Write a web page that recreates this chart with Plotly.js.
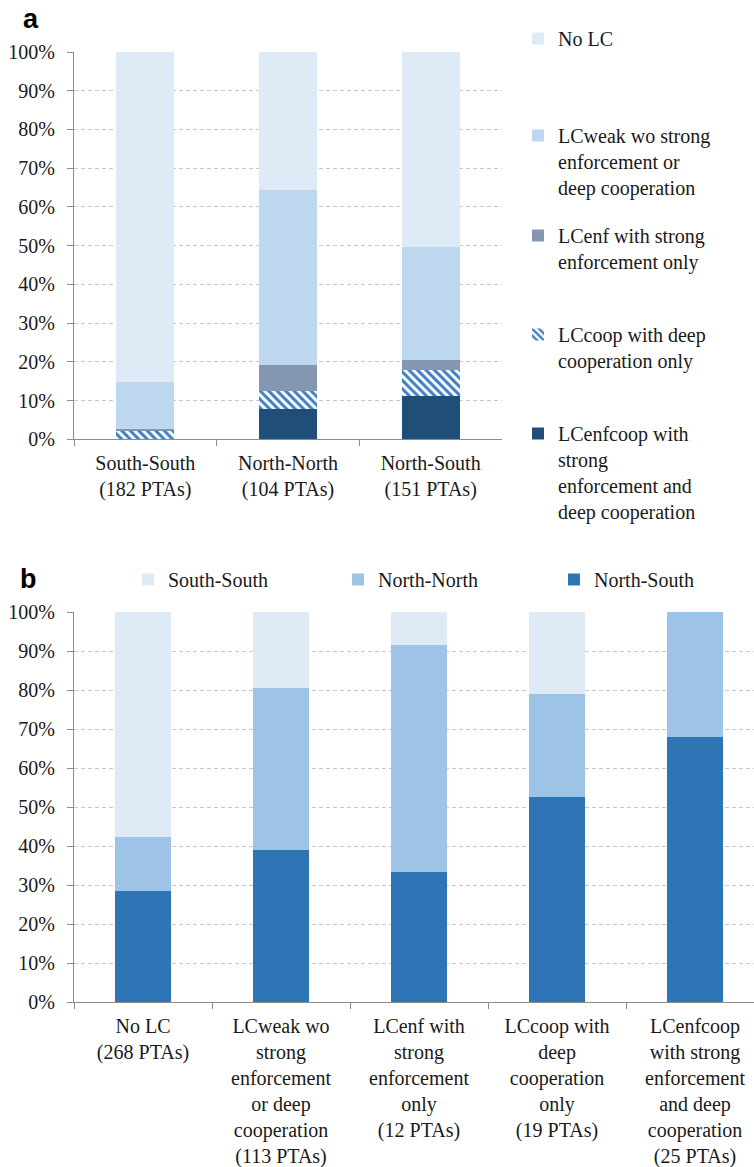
<!DOCTYPE html>
<html>
<head>
<meta charset="utf-8">
<script src="https://cdn.plot.ly/plotly-3.0.1.min.js"></script>
<style>
html,body{margin:0;padding:0;overflow:hidden;background:#fff;}
#chart{width:754px;height:1167px;}
</style>
</head>
<body>
<div id="chart"></div>
<script>
// ---- Panel a data (share of PTAs by labour-clause type within each group, %) ----
var groupsA = ["South-South<br>(182 PTAs)", "North-North<br>(104 PTAs)", "North-South<br>(151 PTAs)"];
var enfcoopA = [0, 7.7, 11.3];
var coopA = [2.2, 4.8, 6.6];
var enfA = [0.5, 6.7, 2.6];
var weakA = [12.1, 45.2, 29.1];
var nolcA = [85.2, 35.6, 50.4];
var namesA = [
  "LCenfcoop with<br>strong<br>enforcement and<br>deep cooperation",
  "LCcoop with deep<br>cooperation only",
  "LCenf with strong<br>enforcement only",
  "LCweak wo strong<br>enforcement or<br>deep cooperation",
  "No LC"
];

// ---- Panel b data (share of PTAs by group within each labour-clause type, %) ----
var typesB = [
  "No LC<br>(268 PTAs)",
  "LCweak wo<br>strong<br>enforcement<br>or deep<br>cooperation<br>(113 PTAs)",
  "LCenf with<br>strong<br>enforcement<br>only<br>(12 PTAs)",
  "LCcoop with<br>deep<br>cooperation<br>only<br>(19 PTAs)",
  "LCenfcoop<br>with strong<br>enforcement<br>and deep<br>cooperation<br>(25 PTAs)"
];
var northSouthB = [28.4, 38.9, 33.3, 52.6, 68.0];
var northNorthB = [13.8, 41.6, 58.3, 26.3, 32.0];
var southSouthB = [57.8, 19.5, 8.4, 21.1, 0];
var namesB = ["North-South", "North-North", "South-South"];

var yTicks = [0,10,20,30,40,50,60,70,80,90,100];

// ---- helpers for positioning ----
var W = 754, H = 1167;
function px(x){ return x / W; }
function py(y){ return 1 - y / H; }

var FONT = 'Liberation Serif';
var FS = 20;
var TXT = '#1a1a1a';

var colorsA = ['#1f4e79', '#3d7ec2', '#8497b0', '#bdd7ee', '#deeaf6'];
var legendsA = ['legend', 'legend2', 'legend3', 'legend4', 'legend5'];
var seriesA = [enfcoopA, coopA, enfA, weakA, nolcA];

var traces = [];
seriesA.forEach(function(vals, i){
  var t = {
    type: 'bar', x: groupsA, y: vals, name: namesA[i],
    xaxis: 'x', yaxis: 'y', legend: legendsA[i],
    marker: {color: colorsA[i], line: {width: 0}},
    hoverinfo: 'skip'
  };
  if (i === 1) {
    t.marker = {color: '#3d7ec2', line: {width: 0},
      pattern: {shape: '\\', fillmode: 'replace', fgcolor: '#3d7ec2', bgcolor: '#ffffff', size: 6, solidity: 0.5}};
  }
  traces.push(t);
});

var colorsB = ['#2e75b6', '#9dc3e6', '#deeaf6'];
var legendsB = ['legend8', 'legend7', 'legend6'];
[northSouthB, northNorthB, southSouthB].forEach(function(vals, i){
  traces.push({
    type: 'bar', x: typesB, y: vals, name: namesB[i],
    xaxis: 'x2', yaxis: 'y2', legend: legendsB[i],
    marker: {color: colorsB[i], line: {width: 0}},
    hoverinfo: 'skip'
  });
});

var yCommon = {
  range: [0, 100], tickvals: yTicks, ticktext: yTicks.map(function(v){return v + '%';}),
  showgrid: true, gridcolor: '#c8c8c8', gridwidth: 1, griddash: '4px,3px',
  zeroline: false, showline: true, linecolor: '#8c8c8c', linewidth: 1,
  ticks: 'outside', ticklen: 6, tickcolor: '#8c8c8c', ticklabelstandoff: 8,
  tickfont: {family: FONT, size: FS, color: TXT}, fixedrange: true
};
var xCommon = {
  type: 'category', showgrid: false, zeroline: false,
  showline: true, linecolor: '#8c8c8c', linewidth: 1,
  ticks: 'outside', tickson: 'boundaries', ticklen: 6, tickcolor: '#8c8c8c', ticklabelstandoff: 6,
  tickfont: {family: FONT, size: FS, color: TXT}, fixedrange: true, tickangle: 0
};

function legendAt(x, y){
  return {x: px(x), y: py(y), xanchor: 'left', yanchor: 'top', bgcolor: 'rgba(0,0,0,0)',
    borderwidth: 0, valign: 'top', font: {family: FONT, size: FS, color: TXT}};
}

var layout = {
  width: W, height: H,
  margin: {l: 0, r: 0, t: 0, b: 0},
  paper_bgcolor: '#ffffff', plot_bgcolor: '#ffffff',
  font: {family: FONT, size: FS, color: TXT},
  barmode: 'stack', bargap: 0.595,
  showlegend: true,
  xaxis: Object.assign({}, xCommon, {domain: [px(74), px(502)], anchor: 'y', range: [-0.5, 2.5]}),
  yaxis: Object.assign({}, yCommon, {domain: [py(439.3), py(52)], anchor: 'x'}),
  xaxis2: Object.assign({}, xCommon, {domain: [px(74), 1], anchor: 'y2', range: [-0.5, 4.4275]}),
  yaxis2: Object.assign({}, yCommon, {domain: [py(1002), py(612)], anchor: 'x2'}),
  legend: legendAt(518, 414),
  legend2: legendAt(518, 315),
  legend3: legendAt(518, 216),
  legend4: legendAt(518, 116),
  legend5: legendAt(518, 19),
  legend6: legendAt(128, 560),
  legend7: legendAt(338, 560),
  legend8: legendAt(554, 560),
  annotations: [
    {text: 'a', x: px(21), y: py(19), xref: 'paper', yref: 'paper', xanchor: 'left', yanchor: 'middle',
     showarrow: false, font: {family: 'Liberation Sans', size: 27, color: '#000', weight: 'bold'}},
    {text: 'b', x: px(18), y: py(579), xref: 'paper', yref: 'paper', xanchor: 'left', yanchor: 'middle',
     showarrow: false, font: {family: 'Liberation Sans', size: 27, color: '#000', weight: 'bold'}}
  ]
};

Plotly.newPlot('chart', traces, layout, {displayModeBar: false, staticPlot: true});
</script>
</body>
</html>
